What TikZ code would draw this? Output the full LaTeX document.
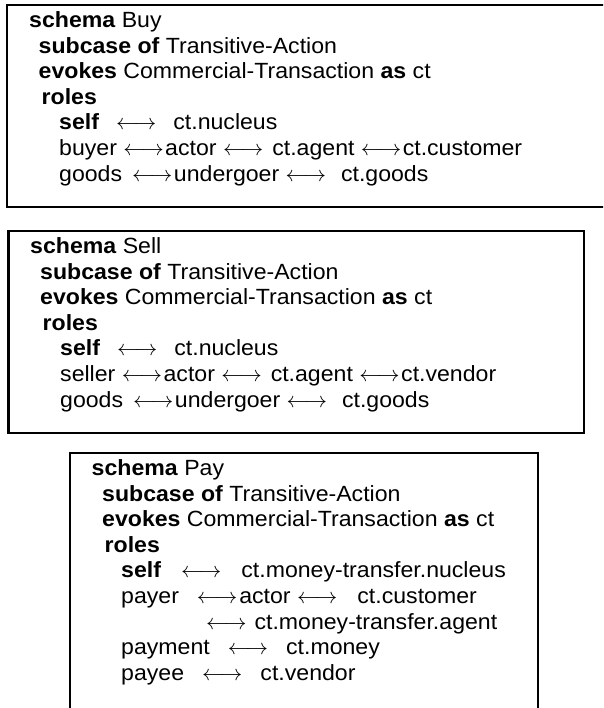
\RequirePackage{fix-cm}
\documentclass[tikz,border=0pt]{standalone}
\usepackage{fontspec}
\setmainfont{Liberation Sans}[FakeStretch=1.05]
\newcommand\myarr{{\fontsize{22}{25}\selectfont$\longleftrightarrow$}}
\newcommand\gap[1]{\hspace{#1pt}}
\tikzset{
  line/.style={anchor=base west, inner sep=0pt, font=\fontsize{22}{25}\selectfont},
  frame/.style={draw=black, line width=2.8pt}
}
\begin{document}
\begin{tikzpicture}[x=1pt,y=-1pt]
\useasboundingbox (0,0) rectangle (603,708);
\clip (0,0) rectangle (603,708);
% Box 1: Buy
\draw[frame] (7,5) rectangle (640,207);
\node[line] (b1) at (29,27.5) {\textbf{schema} Buy};
\node[line] (b2) at (38.5,53.1) {\textbf{subcase of} Transitive-Action};
\node[line] (b3) at (38.5,78.7) {\textbf{evokes} Commercial-Transaction \textbf{as} ct};
\node[line] (b4) at (41.5,104.3) {\textbf{roles}};
\node[line] (b5) at (59,129.9) {\textbf{self}\gap{17}\myarr\gap{17}ct.nucleus};
\node[line] (b6) at (59,155.5) {buyer \myarr\gap{1.5}actor \myarr\gap{9}ct.agent \myarr\gap{1.5}ct.customer};
\node[line] (b7) at (59,181.1) {goods\gap{10}\myarr\gap{1.5}undergoer \myarr\gap{15}ct.goods};
% Box 2: Sell
\draw[frame] (8.5,231) rectangle (584,433);
\node[line] (s1) at (30,253.5) {\textbf{schema} Sell};
\node[line] (s2) at (40,279.1) {\textbf{subcase of} Transitive-Action};
\node[line] (s3) at (40,304.7) {\textbf{evokes} Commercial-Transaction \textbf{as} ct};
\node[line] (s4) at (42.5,330.3) {\textbf{roles}};
\node[line] (s5) at (60,355.9) {\textbf{self}\gap{17}\myarr\gap{17}ct.nucleus};
\node[line] (s6) at (60,381.5) {seller \myarr\gap{1.5}actor \myarr\gap{9}ct.agent \myarr\gap{1.5}ct.vendor};
\node[line] (s7) at (60,407.1) {goods\gap{10}\myarr\gap{1.5}undergoer \myarr\gap{15}ct.goods};
% Box 3: Pay
\draw[frame] (70,453) rectangle (538,740);
\node[line] (p1) at (91.5,475.5) {\textbf{schema} Pay};
\node[line] (p2) at (102,501.1) {\textbf{subcase of} Transitive-Action};
\node[line] (p3) at (102,526.7) {\textbf{evokes} Commercial-Transaction \textbf{as} ct};
\node[line] (p4) at (104.5,552.3) {\textbf{roles}};
\node[line] (p5) at (121,577.9) {\textbf{self}\gap{20}\myarr\gap{20}ct.money-transfer.nucleus};
\node[line] (p6) at (121,603.5) {payer\gap{18}\myarr\gap{2}actor \myarr\gap{20}ct.customer};
\node[line] (p7) at (206,629.1) {\myarr\gap{8}ct.money-transfer.agent};
\node[line] (p8) at (121,654.7) {payment\gap{18}\myarr\gap{18}ct.money};
\node[line] (p9) at (121,680.3) {payee\gap{18}\myarr\gap{18}ct.vendor};
\end{tikzpicture}
\end{document}
